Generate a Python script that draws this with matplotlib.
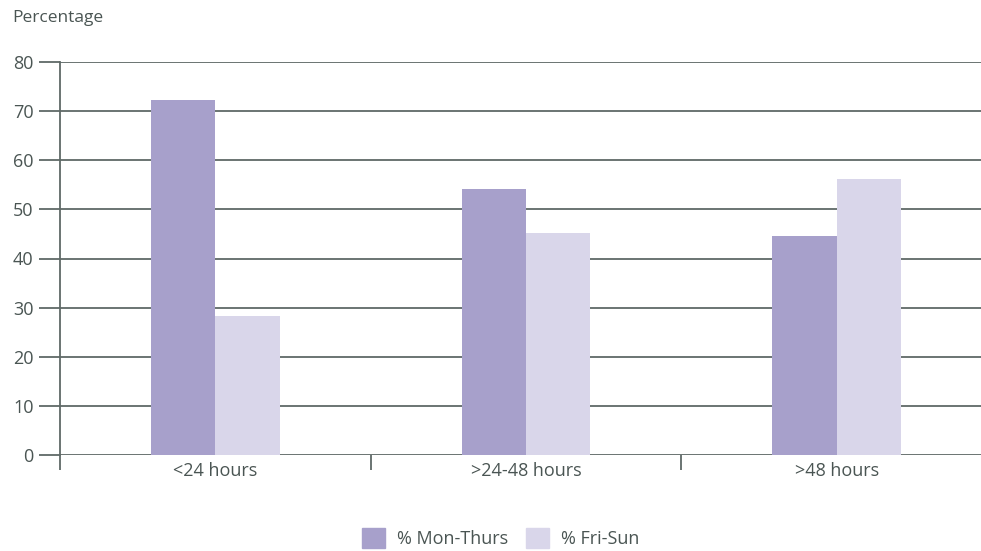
import numpy as np
import matplotlib.pyplot as plt
from matplotlib.patches import Patch

plt.rcParams['font.family'] = ['Open Sans', 'DejaVu Sans']

categories = ['<24 hours', '>24-48 hours', '>48 hours']
mon_thurs = [72.2, 54.2, 44.5]
fri_sun = [28.3, 45.1, 56.1]
series_names = ['% Mon-Thurs', '% Fri-Sun']

col_mon = '#a7a0cb'
col_fri = '#d9d6ea'
grid_col = '#5f6967'
text_col = '#4a5553'

fig = plt.figure(figsize=(9.81, 5.51), dpi=100)
ax = fig.add_axes([60 / 981, 1 - 455 / 551, 932 / 981, 393 / 551])

x = np.arange(len(categories))
w = 0.207
ax.bar(x - w / 2, mon_thurs, w, color=col_mon, zorder=3)
ax.bar(x + w / 2, fri_sun, w, color=col_fri, zorder=3)

ax.set_xlim(-0.5, 2.5)
ax.set_ylim(0, 80)
ax.set_yticks(range(0, 81, 10))
ax.yaxis.grid(True, color=grid_col, linewidth=1.3, zorder=1)
ax.set_axisbelow(True)

for s in ['top', 'right', 'bottom']:
    ax.spines[s].set_visible(False)
ax.spines['left'].set_color(grid_col)
ax.spines['left'].set_linewidth(1.3)

ax.tick_params(axis='y', length=15, width=1.3, color=grid_col, pad=4,
               labelsize=13, labelcolor=text_col)
ax.set_xticks(x)
ax.set_xticklabels(categories)
ax.tick_params(axis='x', which='major', length=0, pad=5,
               labelsize=13, labelcolor=text_col)
ax.set_xticks([-0.5, 0.5, 1.5], minor=True)
ax.tick_params(axis='x', which='minor', length=11, width=1.3, color=grid_col)

fig.text(12 / 981, 1 - 18 / 551, 'Percentage', fontsize=12.5, color=text_col,
         va='center', ha='left')

handles = [Patch(color=col_mon, label=series_names[0]),
           Patch(color=col_fri, label=series_names[1])]
leg = fig.legend(handles=handles, loc='center', bbox_to_anchor=(0.5 + 10 / 981, 1 - 538 / 551),
                 ncol=2, frameon=False, fontsize=13, handlelength=1.3,
                 handleheight=1.3, handletextpad=0.65, columnspacing=1.0)
for t in leg.get_texts():
    t.set_color(text_col)

fig.savefig('out.png', dpi=100)
